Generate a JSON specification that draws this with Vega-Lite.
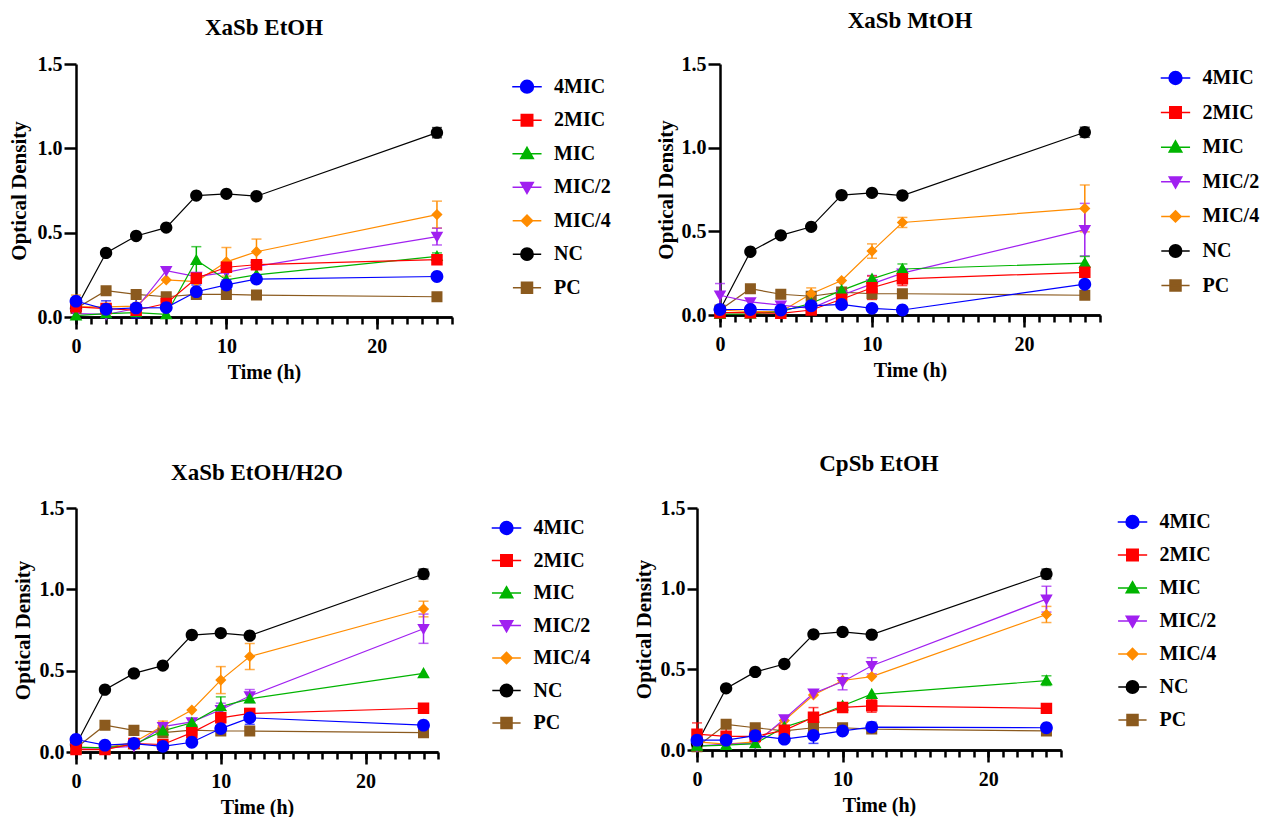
{
"$schema": "https://vega.github.io/schema/vega-lite/v6.json",
"padding": {"left": 8, "top": 10, "right": 0, "bottom": 0},
"background": "white",
"datasets": {"d": [
{"p":"A","s":"PC","t":0,"od":0.05,"sd":0},{"p":"A","s":"PC","t":2,"od":0.156,"sd":0},{"p":"A","s":"PC","t":4,"od":0.134,"sd":0},{"p":"A","s":"PC","t":6,"od":0.12,"sd":0},{"p":"A","s":"PC","t":8,"od":0.134,"sd":0},{"p":"A","s":"PC","t":10,"od":0.134,"sd":0},{"p":"A","s":"PC","t":12,"od":0.13,"sd":0},{"p":"A","s":"PC","t":24,"od":0.12,"sd":0},
{"p":"A","s":"NC","t":0,"od":0.05,"sd":0},{"p":"A","s":"NC","t":2,"od":0.38,"sd":0},{"p":"A","s":"NC","t":4,"od":0.48,"sd":0},{"p":"A","s":"NC","t":6,"od":0.53,"sd":0},{"p":"A","s":"NC","t":8,"od":0.72,"sd":0},{"p":"A","s":"NC","t":10,"od":0.73,"sd":0},{"p":"A","s":"NC","t":12,"od":0.716,"sd":0},{"p":"A","s":"NC","t":24,"od":1.093,"sd":0.03},
{"p":"A","s":"MIC/4","t":0,"od":0.06,"sd":0.07},{"p":"A","s":"MIC/4","t":2,"od":0.06,"sd":0},{"p":"A","s":"MIC/4","t":4,"od":0.065,"sd":0},{"p":"A","s":"MIC/4","t":6,"od":0.22,"sd":0},{"p":"A","s":"MIC/4","t":8,"od":0.21,"sd":0},{"p":"A","s":"MIC/4","t":10,"od":0.327,"sd":0.085},{"p":"A","s":"MIC/4","t":12,"od":0.387,"sd":0.075},{"p":"A","s":"MIC/4","t":24,"od":0.607,"sd":0.08},
{"p":"A","s":"MIC/2","t":0,"od":0.02,"sd":0},{"p":"A","s":"MIC/2","t":2,"od":0.015,"sd":0},{"p":"A","s":"MIC/2","t":4,"od":0.05,"sd":0},{"p":"A","s":"MIC/2","t":6,"od":0.275,"sd":0},{"p":"A","s":"MIC/2","t":8,"od":0.24,"sd":0},{"p":"A","s":"MIC/2","t":10,"od":0.265,"sd":0},{"p":"A","s":"MIC/2","t":12,"od":0.3,"sd":0},{"p":"A","s":"MIC/2","t":24,"od":0.477,"sd":0.05},
{"p":"A","s":"MIC","t":0,"od":0.008,"sd":0},{"p":"A","s":"MIC","t":2,"od":0.02,"sd":0},{"p":"A","s":"MIC","t":4,"od":0.026,"sd":0.02},{"p":"A","s":"MIC","t":6,"od":0.015,"sd":0},{"p":"A","s":"MIC","t":8,"od":0.337,"sd":0.08},{"p":"A","s":"MIC","t":10,"od":0.22,"sd":0},{"p":"A","s":"MIC","t":12,"od":0.25,"sd":0},{"p":"A","s":"MIC","t":24,"od":0.36,"sd":0.02},
{"p":"A","s":"2MIC","t":0,"od":0.06,"sd":0},{"p":"A","s":"2MIC","t":2,"od":0.05,"sd":0},{"p":"A","s":"2MIC","t":4,"od":0.04,"sd":0},{"p":"A","s":"2MIC","t":6,"od":0.08,"sd":0.04},{"p":"A","s":"2MIC","t":8,"od":0.23,"sd":0},{"p":"A","s":"2MIC","t":10,"od":0.295,"sd":0.03},{"p":"A","s":"2MIC","t":12,"od":0.31,"sd":0},{"p":"A","s":"2MIC","t":24,"od":0.34,"sd":0},
{"p":"A","s":"4MIC","t":0,"od":0.094,"sd":0},{"p":"A","s":"4MIC","t":2,"od":0.046,"sd":0.05},{"p":"A","s":"4MIC","t":4,"od":0.054,"sd":0.06},{"p":"A","s":"4MIC","t":6,"od":0.056,"sd":0.06},{"p":"A","s":"4MIC","t":8,"od":0.15,"sd":0.04},{"p":"A","s":"4MIC","t":10,"od":0.19,"sd":0.03},{"p":"A","s":"4MIC","t":12,"od":0.225,"sd":0},{"p":"A","s":"4MIC","t":24,"od":0.24,"sd":0},
{"p":"B","s":"PC","t":0,"od":0.03,"sd":0},{"p":"B","s":"PC","t":2,"od":0.157,"sd":0},{"p":"B","s":"PC","t":4,"od":0.124,"sd":0},{"p":"B","s":"PC","t":6,"od":0.112,"sd":0},{"p":"B","s":"PC","t":8,"od":0.137,"sd":0},{"p":"B","s":"PC","t":10,"od":0.127,"sd":0.03},{"p":"B","s":"PC","t":12,"od":0.127,"sd":0},{"p":"B","s":"PC","t":24,"od":0.118,"sd":0},
{"p":"B","s":"NC","t":0,"od":0.03,"sd":0},{"p":"B","s":"NC","t":2,"od":0.378,"sd":0},{"p":"B","s":"NC","t":4,"od":0.476,"sd":0},{"p":"B","s":"NC","t":6,"od":0.527,"sd":0},{"p":"B","s":"NC","t":8,"od":0.716,"sd":0},{"p":"B","s":"NC","t":10,"od":0.73,"sd":0},{"p":"B","s":"NC","t":12,"od":0.714,"sd":0},{"p":"B","s":"NC","t":24,"od":1.092,"sd":0.03},
{"p":"B","s":"MIC/4","t":0,"od":0.03,"sd":0},{"p":"B","s":"MIC/4","t":2,"od":0.02,"sd":0},{"p":"B","s":"MIC/4","t":4,"od":0.02,"sd":0},{"p":"B","s":"MIC/4","t":6,"od":0.127,"sd":0.035},{"p":"B","s":"MIC/4","t":8,"od":0.206,"sd":0},{"p":"B","s":"MIC/4","t":10,"od":0.382,"sd":0.043},{"p":"B","s":"MIC/4","t":12,"od":0.553,"sd":0.03},{"p":"B","s":"MIC/4","t":24,"od":0.637,"sd":0.14},
{"p":"B","s":"MIC/2","t":0,"od":0.118,"sd":0.07},{"p":"B","s":"MIC/2","t":2,"od":0.078,"sd":0},{"p":"B","s":"MIC/2","t":4,"od":0.059,"sd":0},{"p":"B","s":"MIC/2","t":6,"od":0.04,"sd":0},{"p":"B","s":"MIC/2","t":8,"od":0.118,"sd":0},{"p":"B","s":"MIC/2","t":10,"od":0.186,"sd":0.05},{"p":"B","s":"MIC/2","t":12,"od":0.25,"sd":0},{"p":"B","s":"MIC/2","t":24,"od":0.51,"sd":0.157},
{"p":"B","s":"MIC","t":0,"od":0.005,"sd":0},{"p":"B","s":"MIC","t":2,"od":0.006,"sd":0},{"p":"B","s":"MIC","t":4,"od":0.02,"sd":0},{"p":"B","s":"MIC","t":6,"od":0.07,"sd":0},{"p":"B","s":"MIC","t":8,"od":0.147,"sd":0},{"p":"B","s":"MIC","t":10,"od":0.216,"sd":0},{"p":"B","s":"MIC","t":12,"od":0.275,"sd":0.03},{"p":"B","s":"MIC","t":24,"od":0.31,"sd":0.04},
{"p":"B","s":"2MIC","t":0,"od":0.014,"sd":0},{"p":"B","s":"2MIC","t":2,"od":0.014,"sd":0},{"p":"B","s":"2MIC","t":4,"od":0.01,"sd":0},{"p":"B","s":"2MIC","t":6,"od":0.03,"sd":0},{"p":"B","s":"2MIC","t":8,"od":0.094,"sd":0},{"p":"B","s":"2MIC","t":10,"od":0.163,"sd":0.07},{"p":"B","s":"2MIC","t":12,"od":0.216,"sd":0.04},{"p":"B","s":"2MIC","t":24,"od":0.255,"sd":0},
{"p":"B","s":"4MIC","t":0,"od":0.033,"sd":0},{"p":"B","s":"4MIC","t":2,"od":0.033,"sd":0},{"p":"B","s":"4MIC","t":4,"od":0.03,"sd":0},{"p":"B","s":"4MIC","t":6,"od":0.055,"sd":0},{"p":"B","s":"4MIC","t":8,"od":0.063,"sd":0},{"p":"B","s":"4MIC","t":10,"od":0.04,"sd":0},{"p":"B","s":"4MIC","t":12,"od":0.03,"sd":0},{"p":"B","s":"4MIC","t":24,"od":0.184,"sd":0},
{"p":"C","s":"PC","t":0,"od":0.025,"sd":0},{"p":"C","s":"PC","t":2,"od":0.165,"sd":0},{"p":"C","s":"PC","t":4,"od":0.133,"sd":0},{"p":"C","s":"PC","t":6,"od":0.119,"sd":0},{"p":"C","s":"PC","t":8,"od":0.135,"sd":0},{"p":"C","s":"PC","t":10,"od":0.129,"sd":0},{"p":"C","s":"PC","t":12,"od":0.129,"sd":0},{"p":"C","s":"PC","t":24,"od":0.119,"sd":0},
{"p":"C","s":"NC","t":0,"od":0.045,"sd":0},{"p":"C","s":"NC","t":2,"od":0.383,"sd":0},{"p":"C","s":"NC","t":4,"od":0.483,"sd":0},{"p":"C","s":"NC","t":6,"od":0.531,"sd":0},{"p":"C","s":"NC","t":8,"od":0.719,"sd":0},{"p":"C","s":"NC","t":10,"od":0.731,"sd":0},{"p":"C","s":"NC","t":12,"od":0.715,"sd":0},{"p":"C","s":"NC","t":24,"od":1.094,"sd":0.03},
{"p":"C","s":"MIC/4","t":0,"od":0.025,"sd":0},{"p":"C","s":"MIC/4","t":2,"od":0.025,"sd":0},{"p":"C","s":"MIC/4","t":4,"od":0.06,"sd":0},{"p":"C","s":"MIC/4","t":6,"od":0.16,"sd":0.03},{"p":"C","s":"MIC/4","t":8,"od":0.258,"sd":0},{"p":"C","s":"MIC/4","t":10,"od":0.442,"sd":0.083},{"p":"C","s":"MIC/4","t":12,"od":0.587,"sd":0.08},{"p":"C","s":"MIC/4","t":24,"od":0.879,"sd":0.048},
{"p":"C","s":"MIC/2","t":0,"od":0.025,"sd":0},{"p":"C","s":"MIC/2","t":2,"od":0.025,"sd":0},{"p":"C","s":"MIC/2","t":4,"od":0.035,"sd":0},{"p":"C","s":"MIC/2","t":6,"od":0.156,"sd":0},{"p":"C","s":"MIC/2","t":8,"od":0.185,"sd":0},{"p":"C","s":"MIC/2","t":10,"od":0.26,"sd":0.04},{"p":"C","s":"MIC/2","t":12,"od":0.344,"sd":0.04},{"p":"C","s":"MIC/2","t":24,"od":0.758,"sd":0.09},
{"p":"C","s":"MIC","t":0,"od":0.03,"sd":0},{"p":"C","s":"MIC","t":2,"od":0.025,"sd":0},{"p":"C","s":"MIC","t":4,"od":0.046,"sd":0},{"p":"C","s":"MIC","t":6,"od":0.13,"sd":0},{"p":"C","s":"MIC","t":8,"od":0.18,"sd":0},{"p":"C","s":"MIC","t":10,"od":0.279,"sd":0.06},{"p":"C","s":"MIC","t":12,"od":0.327,"sd":0},{"p":"C","s":"MIC","t":24,"od":0.483,"sd":0},
{"p":"C","s":"2MIC","t":0,"od":0.015,"sd":0},{"p":"C","s":"2MIC","t":2,"od":0.015,"sd":0},{"p":"C","s":"2MIC","t":4,"od":0.052,"sd":0},{"p":"C","s":"2MIC","t":6,"od":0.046,"sd":0},{"p":"C","s":"2MIC","t":8,"od":0.119,"sd":0},{"p":"C","s":"2MIC","t":10,"od":0.21,"sd":0.03},{"p":"C","s":"2MIC","t":12,"od":0.237,"sd":0.03},{"p":"C","s":"2MIC","t":24,"od":0.269,"sd":0},
{"p":"C","s":"4MIC","t":0,"od":0.077,"sd":0},{"p":"C","s":"4MIC","t":2,"od":0.042,"sd":0},{"p":"C","s":"4MIC","t":4,"od":0.052,"sd":0},{"p":"C","s":"4MIC","t":6,"od":0.035,"sd":0},{"p":"C","s":"4MIC","t":8,"od":0.06,"sd":0},{"p":"C","s":"4MIC","t":10,"od":0.144,"sd":0},{"p":"C","s":"4MIC","t":12,"od":0.21,"sd":0.04},{"p":"C","s":"4MIC","t":24,"od":0.165,"sd":0},
{"p":"D","s":"PC","t":0,"od":0.02,"sd":0},{"p":"D","s":"PC","t":2,"od":0.159,"sd":0},{"p":"D","s":"PC","t":4,"od":0.138,"sd":0},{"p":"D","s":"PC","t":6,"od":0.118,"sd":0},{"p":"D","s":"PC","t":8,"od":0.138,"sd":0},{"p":"D","s":"PC","t":10,"od":0.138,"sd":0},{"p":"D","s":"PC","t":12,"od":0.13,"sd":0},{"p":"D","s":"PC","t":24,"od":0.118,"sd":0},
{"p":"D","s":"NC","t":0,"od":0.04,"sd":0},{"p":"D","s":"NC","t":2,"od":0.382,"sd":0},{"p":"D","s":"NC","t":4,"od":0.484,"sd":0},{"p":"D","s":"NC","t":6,"od":0.533,"sd":0},{"p":"D","s":"NC","t":8,"od":0.717,"sd":0},{"p":"D","s":"NC","t":10,"od":0.732,"sd":0},{"p":"D","s":"NC","t":12,"od":0.715,"sd":0},{"p":"D","s":"NC","t":24,"od":1.091,"sd":0.03},
{"p":"D","s":"MIC/4","t":0,"od":0.05,"sd":0},{"p":"D","s":"MIC/4","t":2,"od":0.037,"sd":0},{"p":"D","s":"MIC/4","t":4,"od":0.05,"sd":0},{"p":"D","s":"MIC/4","t":6,"od":0.183,"sd":0},{"p":"D","s":"MIC/4","t":8,"od":0.341,"sd":0},{"p":"D","s":"MIC/4","t":10,"od":0.431,"sd":0},{"p":"D","s":"MIC/4","t":12,"od":0.455,"sd":0},{"p":"D","s":"MIC/4","t":24,"od":0.84,"sd":0.05},
{"p":"D","s":"MIC/2","t":0,"od":0.024,"sd":0},{"p":"D","s":"MIC/2","t":2,"od":0.037,"sd":0},{"p":"D","s":"MIC/2","t":4,"od":0.04,"sd":0},{"p":"D","s":"MIC/2","t":6,"od":0.193,"sd":0},{"p":"D","s":"MIC/2","t":8,"od":0.352,"sd":0},{"p":"D","s":"MIC/2","t":10,"od":0.423,"sd":0.05},{"p":"D","s":"MIC/2","t":12,"od":0.522,"sd":0.05},{"p":"D","s":"MIC/2","t":24,"od":0.935,"sd":0.08},
{"p":"D","s":"MIC","t":0,"od":0.024,"sd":0},{"p":"D","s":"MIC","t":2,"od":0.03,"sd":0},{"p":"D","s":"MIC","t":4,"od":0.04,"sd":0},{"p":"D","s":"MIC","t":6,"od":0.142,"sd":0},{"p":"D","s":"MIC","t":8,"od":0.2,"sd":0},{"p":"D","s":"MIC","t":10,"od":0.274,"sd":0},{"p":"D","s":"MIC","t":12,"od":0.346,"sd":0},{"p":"D","s":"MIC","t":24,"od":0.43,"sd":0.03},
{"p":"D","s":"2MIC","t":0,"od":0.098,"sd":0.07},{"p":"D","s":"2MIC","t":2,"od":0.085,"sd":0.05},{"p":"D","s":"2MIC","t":4,"od":0.085,"sd":0},{"p":"D","s":"2MIC","t":6,"od":0.122,"sd":0.03},{"p":"D","s":"2MIC","t":8,"od":0.203,"sd":0.06},{"p":"D","s":"2MIC","t":10,"od":0.264,"sd":0},{"p":"D","s":"2MIC","t":12,"od":0.274,"sd":0.04},{"p":"D","s":"2MIC","t":24,"od":0.258,"sd":0},
{"p":"D","s":"4MIC","t":0,"od":0.061,"sd":0},{"p":"D","s":"4MIC","t":2,"od":0.061,"sd":0},{"p":"D","s":"4MIC","t":4,"od":0.089,"sd":0},{"p":"D","s":"4MIC","t":6,"od":0.067,"sd":0},{"p":"D","s":"4MIC","t":8,"od":0.091,"sd":0.05},{"p":"D","s":"4MIC","t":10,"od":0.118,"sd":0},{"p":"D","s":"4MIC","t":12,"od":0.142,"sd":0.03},{"p":"D","s":"4MIC","t":24,"od":0.138,"sd":0}
]},
"data": {"name": "d"},
"config": {
  "font": "Liberation Serif",
  "view": {"stroke": null},
  "axis": {"grid": false, "domainColor": "black", "domainWidth": 2.5, "tickColor": "black", "tickWidth": 2.5, "labelFont": "Liberation Serif", "labelFontWeight": "bold", "labelFontSize": 20, "labelColor": "black", "titleFont": "Liberation Serif", "titleFontWeight": "bold", "titleColor": "black"},
  "title": {"font": "Liberation Serif", "fontWeight": "bold", "fontSize": 23, "color": "black"},
  "legend": {"symbolSize": 144, "labelFont": "Liberation Serif", "labelFontWeight": "bold", "labelFontSize": 20, "labelColor": "black", "labelOffset": 17, "padding": 0, "symbolStrokeWidth": 1.5, "symbolOpacity": 1}
},
"spacing": 71,
"resolve": {"scale": {"color": "independent", "shape": "independent", "size": "independent", "stroke": "independent"}, "legend": {"color": "independent", "shape": "independent", "stroke": "independent"}},
"vconcat": [
{"hconcat": [
 {"width": 376, "height": 253, "title": {"text": "XaSb EtOH", "offset": 14},
  "transform": [{"filter": "datum.p === 'A'"}],
  "encoding": {
   "y": {"field": "od", "type": "quantitative", "scale": {"domain": [0, 1.5], "nice": false}, "axis": {"title": "Optical Density", "values": [0, 0.5, 1, 1.5], "format": ".1f", "tickSize": 12, "labelPadding": 2, "titlePadding": 8, "titleFontSize": 21}}
  },
  "resolve": {"axis": {"x": "independent"}},
  "layer": [
   {"mark": {"type": "line", "strokeWidth": 1.2}, "encoding": {"x": {"field": "t", "type": "quantitative", "scale": {"domain": [0, 25], "nice": false}, "axis": {"orient": "bottom", "values": [0,1,2,3,4,5,6,7,8,9,10,11,12,13,14,15,16,17,18,19,20,21,22,23,24,25], "labels": false, "title": null, "tickSize": 7}},
     "color": {"field": "s", "type": "nominal", "scale": {"domain": ["4MIC","2MIC","MIC","MIC/2","MIC/4","NC","PC"], "range": ["#0000ff","#ff0000","#00b400","#a020f0","#ff8c00","#000000","#8b5a1e"]}}}},
   {"transform": [{"filter": "datum.sd > 0"}], "mark": {"type": "errorbar", "ticks": {"size": 10, "thickness": 1.5}, "rule": {"strokeWidth": 1.5}}, "encoding": {"x": {"field": "t", "type": "quantitative", "scale": {"domain": [0, 25], "nice": false}, "axis": null}, "yError": {"field": "sd"},
     "color": {"field": "s", "type": "nominal", "scale": {"domain": ["4MIC","2MIC","MIC","MIC/2","MIC/4","NC","PC"], "range": ["#0000ff","#ff0000","#00b400","#a020f0","#ff8c00","#000000","#8b5a1e"]}}}},
   {"mark": {"type": "point", "filled": true, "opacity": 1}, "encoding": {
     "x": {"field": "t", "type": "quantitative", "scale": {"domain": [0, 25], "nice": false}, "axis": {"orient": "bottom", "title": "Time (h)", "values": [0, 10, 20], "tickSize": 12, "labelPadding": 7, "titlePadding": 6, "titleFontSize": 20, "labelFlush": false}},
     "color": {"field": "s", "type": "nominal", "scale": {"domain": ["4MIC","2MIC","MIC","MIC/2","MIC/4","NC","PC"], "range": ["#0000ff","#ff0000","#00b400","#a020f0","#ff8c00","#000000","#8b5a1e"]}, "legend": {"title": null, "orient": "none", "legendX": 441, "legendY": 12.7, "rowPadding": 13.5, "labelFont": "Liberation Serif", "labelFontWeight": "bold", "labelFontSize": 20, "labelOffset": 17}},
     "stroke": {"field": "s", "type": "nominal", "scale": {"domain": ["4MIC","2MIC","MIC","MIC/2","MIC/4","NC","PC"], "range": ["#0000ff","#ff0000","#00b400","#a020f0","#ff8c00","#000000","#8b5a1e"]}, "legend": {"title": null, "orient": "none", "legendX": 441, "legendY": 12.7, "rowPadding": 13.5, "labelFont": "Liberation Serif", "labelFontWeight": "bold", "labelFontSize": 20, "labelOffset": 17}},
     "shape": {"field": "s", "type": "nominal", "scale": {"domain": ["4MIC","2MIC","MIC","MIC/2","MIC/4","NC","PC"], "range": ["M-2.3,0H2.3M1,0A1,1,0,1,1,-1,0A1,1,0,1,1,1,0Z","M-2.3,0H2.3M-0.9,-0.9H0.9V0.9H-0.9Z","M-2.3,0H2.3M0,-1L1,0.75H-1Z","M-2.3,0H2.3M0,1L1,-0.75H-1Z","M-2.3,0H2.3M0,-0.9L0.9,0L0,0.9L-0.9,0Z","M-2.3,0H2.3M1,0A1,1,0,1,1,-1,0A1,1,0,1,1,1,0Z","M-2.3,0H2.3M-0.9,-0.9H0.9V0.9H-0.9Z"]}, "legend": {"title": null, "orient": "none", "legendX": 441, "legendY": 12.7, "rowPadding": 13.5, "labelFont": "Liberation Serif", "labelFontWeight": "bold", "labelFontSize": 20, "labelOffset": 17}},
     "size": {"field": "s", "type": "nominal", "scale": {"domain": ["4MIC","2MIC","MIC","MIC/2","MIC/4","NC","PC"], "range": [165,150,170,170,130,165,150]}, "legend": null},
     "strokeWidth": {"value": 0}}}
  ]},
 {"width": 380, "height": 251, "title": {"text": "XaSb MtOH", "offset": 21},
  "transform": [{"filter": "datum.p === 'B'"}],
  "encoding": {
   "y": {"field": "od", "type": "quantitative", "scale": {"domain": [0, 1.5], "nice": false}, "axis": {"title": "Optical Density", "values": [0, 0.5, 1, 1.5], "format": ".1f", "tickSize": 12, "labelPadding": 2, "titlePadding": 5, "titleFontSize": 21}}
  },
  "resolve": {"axis": {"x": "independent"}},
  "layer": [
   {"mark": {"type": "line", "strokeWidth": 1.2}, "encoding": {"x": {"field": "t", "type": "quantitative", "scale": {"domain": [0, 25], "nice": false}, "axis": {"orient": "bottom", "values": [0,1,2,3,4,5,6,7,8,9,10,11,12,13,14,15,16,17,18,19,20,21,22,23,24,25], "labels": false, "title": null, "tickSize": 7}},
     "color": {"field": "s", "type": "nominal", "scale": {"domain": ["4MIC","2MIC","MIC","MIC/2","MIC/4","NC","PC"], "range": ["#0000ff","#ff0000","#00b400","#a020f0","#ff8c00","#000000","#8b5a1e"]}}}},
   {"transform": [{"filter": "datum.sd > 0"}], "mark": {"type": "errorbar", "ticks": {"size": 10, "thickness": 1.5}, "rule": {"strokeWidth": 1.5}}, "encoding": {"x": {"field": "t", "type": "quantitative", "scale": {"domain": [0, 25], "nice": false}, "axis": null}, "yError": {"field": "sd"},
     "color": {"field": "s", "type": "nominal", "scale": {"domain": ["4MIC","2MIC","MIC","MIC/2","MIC/4","NC","PC"], "range": ["#0000ff","#ff0000","#00b400","#a020f0","#ff8c00","#000000","#8b5a1e"]}}}},
   {"mark": {"type": "point", "filled": true, "opacity": 1}, "encoding": {
     "x": {"field": "t", "type": "quantitative", "scale": {"domain": [0, 25], "nice": false}, "axis": {"orient": "bottom", "title": "Time (h)", "values": [0, 10, 20], "tickSize": 12, "labelPadding": 7, "titlePadding": 6, "titleFontSize": 20, "labelFlush": false}},
     "color": {"field": "s", "type": "nominal", "scale": {"domain": ["4MIC","2MIC","MIC","MIC/2","MIC/4","NC","PC"], "range": ["#0000ff","#ff0000","#00b400","#a020f0","#ff8c00","#000000","#8b5a1e"]}, "legend": {"title": null, "orient": "none", "legendX": 445.5, "legendY": 4, "rowPadding": 14.6, "labelFont": "Liberation Serif", "labelFontWeight": "bold", "labelFontSize": 20, "labelOffset": 17}},
     "stroke": {"field": "s", "type": "nominal", "scale": {"domain": ["4MIC","2MIC","MIC","MIC/2","MIC/4","NC","PC"], "range": ["#0000ff","#ff0000","#00b400","#a020f0","#ff8c00","#000000","#8b5a1e"]}, "legend": {"title": null, "orient": "none", "legendX": 445.5, "legendY": 4, "rowPadding": 14.6, "labelFont": "Liberation Serif", "labelFontWeight": "bold", "labelFontSize": 20, "labelOffset": 17}},
     "shape": {"field": "s", "type": "nominal", "scale": {"domain": ["4MIC","2MIC","MIC","MIC/2","MIC/4","NC","PC"], "range": ["M-2.3,0H2.3M1,0A1,1,0,1,1,-1,0A1,1,0,1,1,1,0Z","M-2.3,0H2.3M-0.9,-0.9H0.9V0.9H-0.9Z","M-2.3,0H2.3M0,-1L1,0.75H-1Z","M-2.3,0H2.3M0,1L1,-0.75H-1Z","M-2.3,0H2.3M0,-0.9L0.9,0L0,0.9L-0.9,0Z","M-2.3,0H2.3M1,0A1,1,0,1,1,-1,0A1,1,0,1,1,1,0Z","M-2.3,0H2.3M-0.9,-0.9H0.9V0.9H-0.9Z"]}, "legend": {"title": null, "orient": "none", "legendX": 445.5, "legendY": 4, "rowPadding": 14.6, "labelFont": "Liberation Serif", "labelFontWeight": "bold", "labelFontSize": 20, "labelOffset": 17}},
     "size": {"field": "s", "type": "nominal", "scale": {"domain": ["4MIC","2MIC","MIC","MIC/2","MIC/4","NC","PC"], "range": [165,150,170,170,130,165,150]}, "legend": null},
     "strokeWidth": {"value": 0}}}
  ]}
 ], "spacing": 44, "resolve": {"scale": {"color": "independent", "shape": "independent", "size": "independent", "stroke": "independent"}, "legend": {"color": "independent", "shape": "independent", "stroke": "independent"}}},
{"hconcat": [
 {"width": 362, "height": 244, "title": {"text": "XaSb EtOH/H2O", "offset": 13},
  "transform": [{"filter": "datum.p === 'C'"}],
  "encoding": {
   "y": {"field": "od", "type": "quantitative", "scale": {"domain": [0, 1.5], "nice": false}, "axis": {"title": "Optical Density", "values": [0, 0.5, 1, 1.5], "format": ".1f", "tickSize": 10, "labelPadding": 2, "titlePadding": 6, "titleFontSize": 21}}
  },
  "resolve": {"axis": {"x": "independent"}},
  "layer": [
   {"mark": {"type": "line", "strokeWidth": 1.2}, "encoding": {"x": {"field": "t", "type": "quantitative", "scale": {"domain": [0, 25], "nice": false}, "axis": {"orient": "bottom", "values": [0,1,2,3,4,5,6,7,8,9,10,11,12,13,14,15,16,17,18,19,20,21,22,23,24,25], "labels": false, "title": null, "tickSize": 7}},
     "color": {"field": "s", "type": "nominal", "scale": {"domain": ["4MIC","2MIC","MIC","MIC/2","MIC/4","NC","PC"], "range": ["#0000ff","#ff0000","#00b400","#a020f0","#ff8c00","#000000","#8b5a1e"]}}}},
   {"transform": [{"filter": "datum.sd > 0"}], "mark": {"type": "errorbar", "ticks": {"size": 10, "thickness": 1.5}, "rule": {"strokeWidth": 1.5}}, "encoding": {"x": {"field": "t", "type": "quantitative", "scale": {"domain": [0, 25], "nice": false}, "axis": null}, "yError": {"field": "sd"},
     "color": {"field": "s", "type": "nominal", "scale": {"domain": ["4MIC","2MIC","MIC","MIC/2","MIC/4","NC","PC"], "range": ["#0000ff","#ff0000","#00b400","#a020f0","#ff8c00","#000000","#8b5a1e"]}}}},
   {"mark": {"type": "point", "filled": true, "opacity": 1}, "encoding": {
     "x": {"field": "t", "type": "quantitative", "scale": {"domain": [0, 25], "nice": false}, "axis": {"orient": "bottom", "title": "Time (h)", "values": [0, 10, 20], "tickSize": 12, "labelPadding": 7, "titlePadding": 6, "titleFontSize": 20, "labelFlush": false}},
     "color": {"field": "s", "type": "nominal", "scale": {"domain": ["4MIC","2MIC","MIC","MIC/2","MIC/4","NC","PC"], "range": ["#0000ff","#ff0000","#00b400","#a020f0","#ff8c00","#000000","#8b5a1e"]}, "legend": {"title": null, "orient": "none", "legendX": 420.5, "legendY": 10, "rowPadding": 12.5, "labelFont": "Liberation Serif", "labelFontWeight": "bold", "labelFontSize": 20, "labelOffset": 17}},
     "stroke": {"field": "s", "type": "nominal", "scale": {"domain": ["4MIC","2MIC","MIC","MIC/2","MIC/4","NC","PC"], "range": ["#0000ff","#ff0000","#00b400","#a020f0","#ff8c00","#000000","#8b5a1e"]}, "legend": {"title": null, "orient": "none", "legendX": 420.5, "legendY": 10, "rowPadding": 12.5, "labelFont": "Liberation Serif", "labelFontWeight": "bold", "labelFontSize": 20, "labelOffset": 17}},
     "shape": {"field": "s", "type": "nominal", "scale": {"domain": ["4MIC","2MIC","MIC","MIC/2","MIC/4","NC","PC"], "range": ["M-2.3,0H2.3M1,0A1,1,0,1,1,-1,0A1,1,0,1,1,1,0Z","M-2.3,0H2.3M-0.9,-0.9H0.9V0.9H-0.9Z","M-2.3,0H2.3M0,-1L1,0.75H-1Z","M-2.3,0H2.3M0,1L1,-0.75H-1Z","M-2.3,0H2.3M0,-0.9L0.9,0L0,0.9L-0.9,0Z","M-2.3,0H2.3M1,0A1,1,0,1,1,-1,0A1,1,0,1,1,1,0Z","M-2.3,0H2.3M-0.9,-0.9H0.9V0.9H-0.9Z"]}, "legend": {"title": null, "orient": "none", "legendX": 420.5, "legendY": 10, "rowPadding": 12.5, "labelFont": "Liberation Serif", "labelFontWeight": "bold", "labelFontSize": 20, "labelOffset": 17}},
     "size": {"field": "s", "type": "nominal", "scale": {"domain": ["4MIC","2MIC","MIC","MIC/2","MIC/4","NC","PC"], "range": [165,150,170,170,130,165,150]}, "legend": null},
     "strokeWidth": {"value": 0}}}
  ]},
 {"width": 364, "height": 242, "title": {"text": "CpSb EtOH", "offset": 22},
  "transform": [{"filter": "datum.p === 'D'"}],
  "encoding": {
   "y": {"field": "od", "type": "quantitative", "scale": {"domain": [0, 1.5], "nice": false}, "axis": {"title": "Optical Density", "values": [0, 0.5, 1, 1.5], "format": ".1f", "tickSize": 10, "labelPadding": 2, "titlePadding": 6, "titleFontSize": 21}}
  },
  "resolve": {"axis": {"x": "independent"}},
  "layer": [
   {"mark": {"type": "line", "strokeWidth": 1.2}, "encoding": {"x": {"field": "t", "type": "quantitative", "scale": {"domain": [0, 25], "nice": false}, "axis": {"orient": "bottom", "values": [0,1,2,3,4,5,6,7,8,9,10,11,12,13,14,15,16,17,18,19,20,21,22,23,24,25], "labels": false, "title": null, "tickSize": 7}},
     "color": {"field": "s", "type": "nominal", "scale": {"domain": ["4MIC","2MIC","MIC","MIC/2","MIC/4","NC","PC"], "range": ["#0000ff","#ff0000","#00b400","#a020f0","#ff8c00","#000000","#8b5a1e"]}}}},
   {"transform": [{"filter": "datum.sd > 0"}], "mark": {"type": "errorbar", "ticks": {"size": 10, "thickness": 1.5}, "rule": {"strokeWidth": 1.5}}, "encoding": {"x": {"field": "t", "type": "quantitative", "scale": {"domain": [0, 25], "nice": false}, "axis": null}, "yError": {"field": "sd"},
     "color": {"field": "s", "type": "nominal", "scale": {"domain": ["4MIC","2MIC","MIC","MIC/2","MIC/4","NC","PC"], "range": ["#0000ff","#ff0000","#00b400","#a020f0","#ff8c00","#000000","#8b5a1e"]}}}},
   {"mark": {"type": "point", "filled": true, "opacity": 1}, "encoding": {
     "x": {"field": "t", "type": "quantitative", "scale": {"domain": [0, 25], "nice": false}, "axis": {"orient": "bottom", "title": "Time (h)", "values": [0, 10, 20], "tickSize": 12, "labelPadding": 7, "titlePadding": 6, "titleFontSize": 20, "labelFlush": false}},
     "color": {"field": "s", "type": "nominal", "scale": {"domain": ["4MIC","2MIC","MIC","MIC/2","MIC/4","NC","PC"], "range": ["#0000ff","#ff0000","#00b400","#a020f0","#ff8c00","#000000","#8b5a1e"]}, "legend": {"title": null, "orient": "none", "legendX": 425.5, "legendY": 4, "rowPadding": 13, "labelFont": "Liberation Serif", "labelFontWeight": "bold", "labelFontSize": 20, "labelOffset": 17}},
     "stroke": {"field": "s", "type": "nominal", "scale": {"domain": ["4MIC","2MIC","MIC","MIC/2","MIC/4","NC","PC"], "range": ["#0000ff","#ff0000","#00b400","#a020f0","#ff8c00","#000000","#8b5a1e"]}, "legend": {"title": null, "orient": "none", "legendX": 425.5, "legendY": 4, "rowPadding": 13, "labelFont": "Liberation Serif", "labelFontWeight": "bold", "labelFontSize": 20, "labelOffset": 17}},
     "shape": {"field": "s", "type": "nominal", "scale": {"domain": ["4MIC","2MIC","MIC","MIC/2","MIC/4","NC","PC"], "range": ["M-2.3,0H2.3M1,0A1,1,0,1,1,-1,0A1,1,0,1,1,1,0Z","M-2.3,0H2.3M-0.9,-0.9H0.9V0.9H-0.9Z","M-2.3,0H2.3M0,-1L1,0.75H-1Z","M-2.3,0H2.3M0,1L1,-0.75H-1Z","M-2.3,0H2.3M0,-0.9L0.9,0L0,0.9L-0.9,0Z","M-2.3,0H2.3M1,0A1,1,0,1,1,-1,0A1,1,0,1,1,1,0Z","M-2.3,0H2.3M-0.9,-0.9H0.9V0.9H-0.9Z"]}, "legend": {"title": null, "orient": "none", "legendX": 425.5, "legendY": 4, "rowPadding": 13, "labelFont": "Liberation Serif", "labelFontWeight": "bold", "labelFontSize": 20, "labelOffset": 17}},
     "size": {"field": "s", "type": "nominal", "scale": {"domain": ["4MIC","2MIC","MIC","MIC/2","MIC/4","NC","PC"], "range": [165,150,170,170,130,165,150]}, "legend": null},
     "strokeWidth": {"value": 0}}}
  ]}
 ], "spacing": 42, "resolve": {"scale": {"color": "independent", "shape": "independent", "size": "independent", "stroke": "independent"}, "legend": {"color": "independent", "shape": "independent", "stroke": "independent"}}}
]
}
